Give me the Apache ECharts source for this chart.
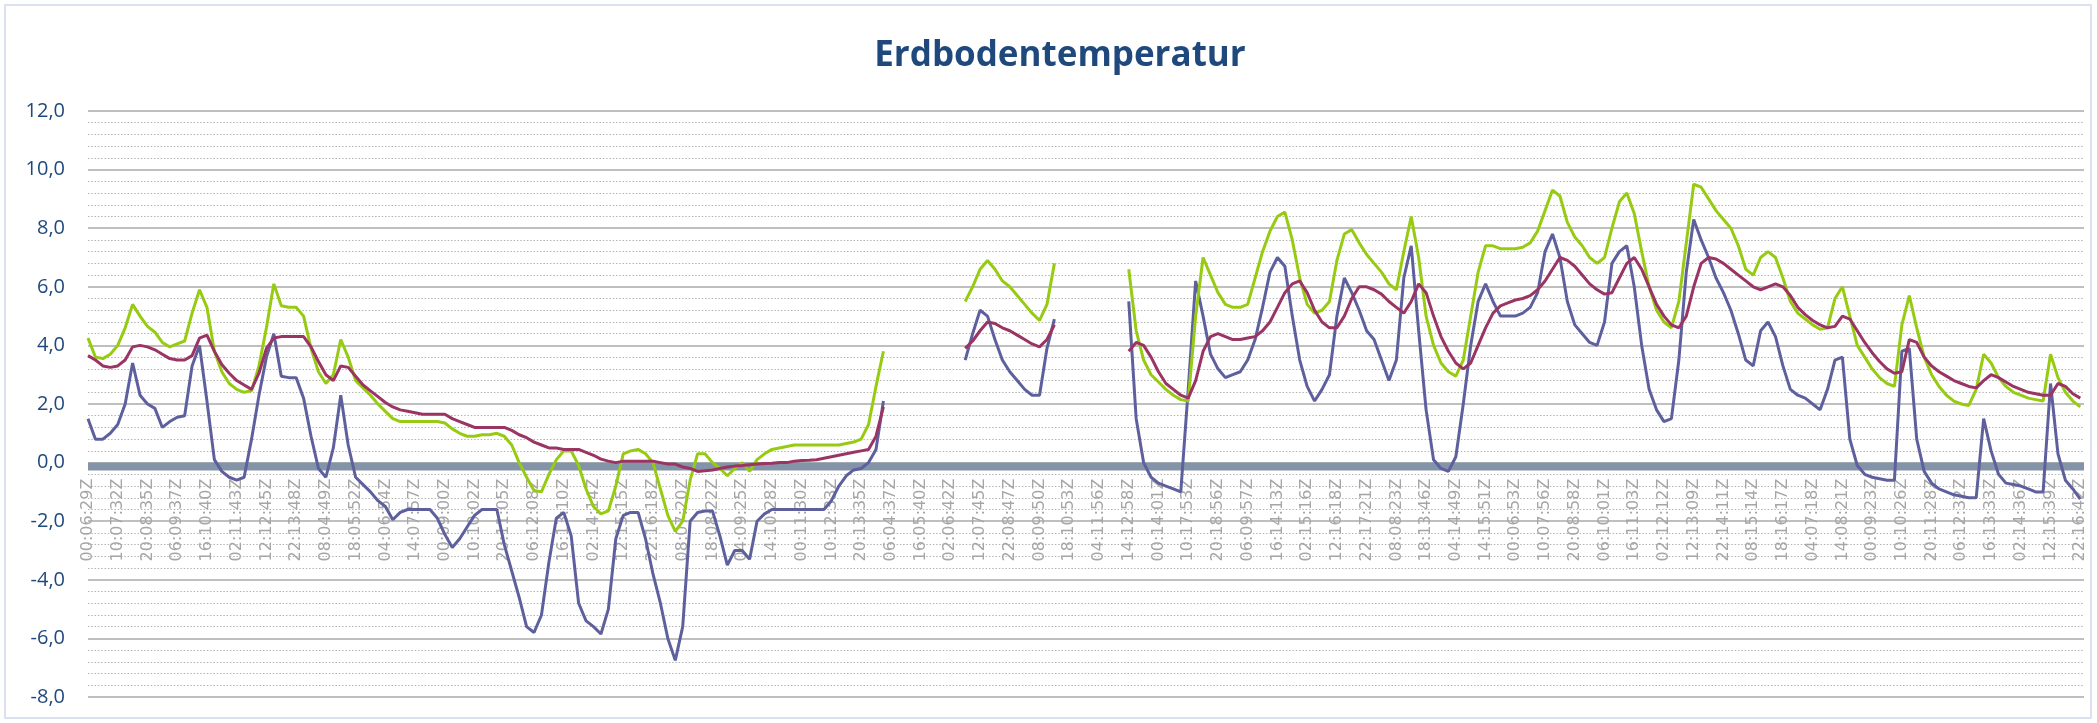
<!DOCTYPE html>
<html>
<head>
<meta charset="utf-8">
<script src="https://cdn.jsdelivr.net/npm/echarts/dist/echarts.min.js"></script>
<style>
html,body{margin:0;padding:0;background:#ffffff;}
#chart{width:2097px;height:723px;}
</style>
</head>
<body>
<div id="chart"></div>
<script>
// ---------- DATA ----------
const chartTitle = 'Erdbodentemperatur';

// tick labels (one every 4 samples)
const tickLabels = ['00:06:29Z','10:07:32Z','20:08:35Z','06:09:37Z','16:10:40Z','02:11:43Z','12:12:45Z','22:13:48Z','08:04:49Z','18:05:52Z','04:06:54Z','14:07:57Z','00:09:00Z','10:10:02Z','20:11:05Z','06:12:08Z','16:13:10Z','02:14:14Z','12:15:15Z','22:16:18Z','08:07:20Z','18:08:22Z','04:09:25Z','14:10:28Z','00:11:30Z','10:12:33Z','20:13:35Z','06:04:37Z','16:05:40Z','02:06:42Z','12:07:45Z','22:08:47Z','08:09:50Z','18:10:53Z','04:11:56Z','14:12:58Z','00:14:01Z','10:17:53Z','20:18:56Z','06:09:57Z','16:14:13Z','02:15:16Z','12:16:18Z','22:17:21Z','08:08:23Z','18:13:46Z','04:14:49Z','14:15:51Z','00:06:53Z','10:07:56Z','20:08:58Z','06:10:01Z','16:11:03Z','02:12:12Z','12:13:09Z','22:14:11Z','08:15:14Z','18:16:17Z','04:07:18Z','14:08:21Z','00:09:23Z','10:10:26Z','20:11:28Z','06:12:32Z','16:13:33Z','02:14:36Z','12:15:39Z','22:16:42Z'];
const samplesPerTick = 4;

// sample index at which each recorded run starts (gaps between runs = no data)
const runStarts = [0, 118, 140];

const blueRuns = [
  [1.5,0.8,0.8,1.0,1.3,2.0,3.4,2.3,2.0,1.85,
   1.2,1.4,1.55,1.6,3.3,4.0,2.1,0.1,-0.3,-0.5,
   -0.6,-0.5,0.8,2.3,3.6,4.4,2.95,2.9,2.9,2.2,
   0.9,-0.2,-0.5,0.5,2.3,0.6,-0.5,-0.75,-1.0,-1.3,
   -1.5,-1.95,-1.7,-1.6,-1.6,-1.6,-1.6,-1.9,-2.45,-2.9,
   -2.6,-2.2,-1.8,-1.6,-1.6,-1.6,-2.8,-3.7,-4.6,-5.6,
   -5.8,-5.2,-3.4,-1.9,-1.7,-2.5,-4.8,-5.4,-5.6,-5.85,
   -5.0,-2.6,-1.8,-1.7,-1.7,-2.6,-3.8,-4.8,-6.0,-6.75,
   -5.6,-2.0,-1.7,-1.65,-1.65,-2.5,-3.5,-3.0,-3.0,-3.3,
   -2.0,-1.75,-1.6,-1.6,-1.6,-1.6,-1.6,-1.6,-1.6,-1.6,
   -1.3,-0.8,-0.45,-0.25,-0.2,0.0,0.45,2.1],
  [3.5,4.4,5.2,5.0,4.2,3.5,3.1,2.8,2.5,2.3,2.3,3.9,4.9],
  [5.5,1.5,0.0,-0.5,-0.7,-0.8,-0.9,-1.0,2.5,6.2,
   5.0,3.7,3.2,2.9,3.0,3.1,3.5,4.2,5.3,6.5,
   7.0,6.7,5.0,3.5,2.6,2.1,2.5,3.0,5.0,6.3,
   5.8,5.2,4.5,4.2,3.5,2.8,3.5,6.3,7.4,4.5,
   1.8,0.1,-0.2,-0.3,0.2,2.0,4.0,5.5,6.1,5.5,
   5.0,5.0,5.0,5.1,5.3,5.8,7.2,7.8,7.0,5.5,
   4.7,4.4,4.1,4.0,4.8,6.8,7.2,7.4,6.0,4.0,
   2.5,1.8,1.4,1.5,3.5,6.5,8.3,7.6,7.0,6.3,
   5.8,5.2,4.4,3.5,3.3,4.5,4.8,4.3,3.3,2.5,
   2.3,2.2,2.0,1.8,2.5,3.5,3.6,0.8,-0.1,-0.4,
   -0.5,-0.55,-0.6,-0.6,3.8,3.9,0.8,-0.3,-0.7,-0.9,
   -1.0,-1.1,-1.15,-1.2,-1.2,1.5,0.4,-0.4,-0.7,-0.75,
   -0.8,-0.9,-1.0,-1.0,2.7,0.3,-0.6,-0.9,-1.25]
];

const greenRuns = [
  [4.25,3.6,3.55,3.7,4.0,4.6,5.4,5.0,4.65,4.45,
   4.1,3.95,4.05,4.15,5.1,5.9,5.3,3.8,3.1,2.7,
   2.5,2.4,2.45,3.3,4.6,6.1,5.35,5.3,5.3,5.0,
   3.9,3.1,2.7,3.0,4.2,3.6,2.8,2.55,2.3,2.0,
   1.75,1.5,1.4,1.4,1.4,1.4,1.4,1.4,1.35,1.15,
   1.0,0.9,0.9,0.95,0.95,1.0,0.9,0.6,0.0,-0.5,
   -0.95,-1.0,-0.4,0.1,0.4,0.4,-0.1,-0.9,-1.5,-1.75,
   -1.65,-0.8,0.3,0.4,0.45,0.3,0.0,-0.9,-1.8,-2.35,
   -2.0,-0.6,0.3,0.3,0.0,-0.2,-0.45,-0.2,0.0,-0.3,
   0.1,0.3,0.45,0.5,0.55,0.6,0.6,0.6,0.6,0.6,
   0.6,0.6,0.65,0.7,0.8,1.3,2.6,3.8],
  [5.5,6.0,6.6,6.9,6.6,6.2,6.0,5.7,5.4,5.1,4.85,5.4,6.8],
  [6.6,4.5,3.5,3.0,2.75,2.5,2.3,2.15,2.1,5.0,
   7.0,6.4,5.8,5.4,5.3,5.3,5.4,6.3,7.2,7.9,
   8.4,8.55,7.6,6.3,5.4,5.1,5.2,5.5,6.9,7.8,
   7.95,7.5,7.1,6.8,6.5,6.1,5.9,7.2,8.4,7.0,
   5.0,4.0,3.4,3.1,2.95,3.5,5.0,6.5,7.4,7.4,
   7.3,7.3,7.3,7.35,7.5,7.9,8.6,9.3,9.1,8.2,
   7.7,7.4,7.0,6.8,7.0,8.0,8.9,9.2,8.5,7.2,
   6.0,5.2,4.8,4.6,5.5,7.5,9.5,9.4,9.0,8.6,
   8.3,8.0,7.4,6.6,6.4,7.0,7.2,7.0,6.3,5.5,
   5.1,4.9,4.7,4.55,4.6,5.6,6.0,5.0,4.0,3.6,
   3.2,2.9,2.7,2.6,4.7,5.7,4.6,3.6,3.0,2.6,
   2.3,2.1,2.0,1.95,2.5,3.7,3.4,2.9,2.6,2.4,
   2.3,2.2,2.15,2.1,3.7,2.9,2.4,2.1,1.9]
];

const purpleRuns = [
  [3.65,3.5,3.3,3.25,3.3,3.5,3.95,4.0,3.95,3.85,
   3.7,3.55,3.5,3.5,3.65,4.25,4.35,3.8,3.35,3.05,
   2.8,2.65,2.5,3.05,3.9,4.25,4.3,4.3,4.3,4.3,
   3.95,3.45,3.0,2.8,3.3,3.25,2.95,2.65,2.45,2.25,
   2.05,1.9,1.8,1.75,1.7,1.65,1.65,1.65,1.65,1.5,
   1.4,1.3,1.2,1.2,1.2,1.2,1.2,1.1,0.95,0.85,
   0.7,0.6,0.5,0.5,0.45,0.45,0.45,0.35,0.25,0.12,
   0.05,0.0,0.05,0.05,0.05,0.05,0.05,0.0,-0.05,-0.05,
   -0.15,-0.2,-0.3,-0.28,-0.25,-0.2,-0.15,-0.12,-0.1,-0.07,
   -0.05,-0.03,-0.02,0.0,0.0,0.05,0.07,0.08,0.1,0.15,
   0.2,0.25,0.3,0.35,0.4,0.45,0.9,1.9],
  [3.9,4.15,4.5,4.8,4.75,4.6,4.5,4.35,4.2,4.05,3.95,4.2,4.7],
  [3.8,4.1,4.0,3.6,3.1,2.7,2.5,2.3,2.2,2.8,
   3.8,4.3,4.4,4.3,4.2,4.2,4.25,4.3,4.5,4.8,
   5.3,5.8,6.1,6.2,5.8,5.2,4.8,4.6,4.6,5.0,
   5.6,6.0,6.0,5.9,5.75,5.5,5.3,5.1,5.5,6.1,
   5.8,5.0,4.3,3.8,3.4,3.2,3.4,4.0,4.6,5.1,
   5.35,5.45,5.55,5.6,5.7,5.9,6.2,6.6,7.0,6.9,
   6.7,6.4,6.1,5.9,5.75,5.8,6.3,6.8,7.0,6.6,
   6.0,5.4,5.0,4.7,4.6,5.0,6.0,6.8,7.0,6.95,
   6.8,6.6,6.4,6.2,6.0,5.9,6.0,6.1,6.0,5.7,
   5.3,5.05,4.85,4.7,4.6,4.65,5.0,4.9,4.5,4.1,
   3.75,3.45,3.2,3.05,3.1,4.2,4.1,3.6,3.3,3.1,
   2.95,2.8,2.7,2.6,2.55,2.8,3.0,2.9,2.75,2.6,
   2.5,2.4,2.35,2.3,2.3,2.7,2.6,2.35,2.2]
];

const yTicks = {min: -8, max: 12, step: 2};

// ---------- BUILD ----------
const totalSamples = (tickLabels.length - 1) * samplesPerTick + 1;
function toPairs(runs) {
  const out = [];
  for (let i = 0; i < totalSamples; i++) out.push([i, null]);
  runs.forEach((run, r) => run.forEach((v, j) => { out[runStarts[r] + j][1] = v; }));
  return out;
}

const gridTop = 111, gridHeight = 586;
// distance from grid bottom up to the y = 0 line, so the category labels sit under zero
const zeroOffset = gridHeight * (0 - yTicks.min) / (yTicks.max - yTicks.min);

const chart = echarts.init(document.getElementById('chart'), null, {renderer: 'canvas'});
const lineW = 3;
chart.setOption({
  animation: false,
  backgroundColor: '#ffffff',
  title: {
    text: chartTitle,
    left: 1060, top: 39, padding: 0,
    textAlign: 'center',
    textStyle: {fontFamily: 'Open Sans', fontWeight: 'bold', fontSize: 35, color: '#1F497D'}
  },
  graphic: [{
    type: 'rect', silent: true, z: -10,
    shape: {x: 5, y: 5, width: 2086, height: 713},
    style: {fill: 'none', stroke: '#D9E2EE', lineWidth: 2}
  }],
  grid: {left: 88, right: 13, top: gridTop, height: gridHeight, containLabel: false, outerBoundsMode: 'none'},
  xAxis: {
    type: 'value',
    position: 'bottom',
    offset: -zeroOffset,
    min: 0,
    max: totalSamples - 1 + 0.5,
    interval: samplesPerTick,
    axisLine: {show: false, onZero: false},
    axisTick: {show: false},
    splitLine: {show: false},
    axisLabel: {
      rotate: 90,
      margin: 16,
      fontFamily: 'DejaVu Sans',
      fontSize: 16,
      color: '#A6A6A6',
      showMinLabel: true,
      showMaxLabel: false,
      formatter: function (v) {
        const k = v / samplesPerTick;
        return (Math.abs(k - Math.round(k)) < 1e-6 && tickLabels[Math.round(k)]) ? tickLabels[Math.round(k)] : '';
      }
    }
  },
  yAxis: {
    type: 'value',
    min: yTicks.min, max: yTicks.max, interval: yTicks.step,
    axisLine: {show: false},
    axisTick: {show: false},
    axisLabel: {
      margin: 23,
      fontFamily: 'Open Sans',
      fontSize: 20,
      color: '#1F497D',
      formatter: v => v.toFixed(1).replace('.', ',')
    },
    splitLine: {show: true, lineStyle: {color: '#BFBFBF', width: 2}},
    minorTick: {show: false, splitNumber: 5},
    minorSplitLine: {show: true, lineStyle: {color: '#B4B4B4', width: 1.2, type: [1.5, 1.8]}}
  },
  series: [
    {
      name: 'zero', type: 'line', data: [], z: 1, silent: true,
      markArea: {
        silent: true,
        itemStyle: {color: '#8393A8', opacity: 1},
        data: [[{yAxis: 0}, {yAxis: -0.273}]]
      }
    },
    {
      name: 'Tiefe A', type: 'line', data: toPairs(blueRuns),
      showSymbol: false, connectNulls: false, z: 3,
      lineStyle: {color: '#5E609E', width: lineW}, itemStyle: {color: '#5E609E'}
    },
    {
      name: 'Tiefe B', type: 'line', data: toPairs(greenRuns),
      showSymbol: false, connectNulls: false, z: 4,
      lineStyle: {color: '#97CB12', width: lineW}, itemStyle: {color: '#97CB12'}
    },
    {
      name: 'Tiefe C', type: 'line', data: toPairs(purpleRuns),
      showSymbol: false, connectNulls: false, z: 5,
      lineStyle: {color: '#9A3463', width: lineW}, itemStyle: {color: '#9A3463'}
    }
  ]
});
</script>
</body>
</html>
